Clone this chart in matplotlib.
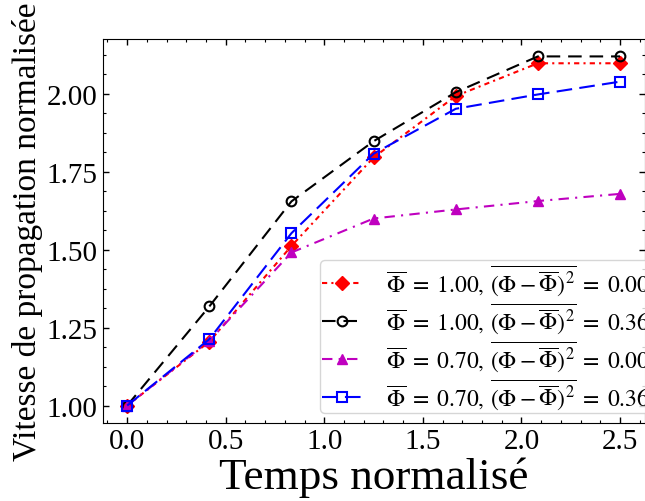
import matplotlib
matplotlib.use("Agg")
import matplotlib.pyplot as plt
from matplotlib.ticker import MultipleLocator

plt.rcParams['font.family'] = ['Liberation Serif', 'DejaVu Serif']
plt.rcParams['mathtext.fontset'] = 'stix'

t = [0.0, 0.4167, 0.8333, 1.25, 1.6667, 2.0833, 2.5]
v_red = [1.00, 1.205, 1.512, 1.796, 1.993, 2.098, 2.098]
v_black = [1.00, 1.318, 1.655, 1.848, 2.005, 2.120, 2.120]
v_mag = [1.00, 1.208, 1.491, 1.600, 1.629, 1.656, 1.679]
v_blue = [1.00, 1.213, 1.553, 1.808, 1.952, 1.998, 2.039]

labels = [
    r'$\overline{\Phi}\;=\;1.00,\,\overline{(\Phi - \overline{\Phi})^2}\;=\;0.00$',
    r'$\overline{\Phi}\;=\;1.00,\,\overline{(\Phi - \overline{\Phi})^2}\;=\;0.36$',
    r'$\overline{\Phi}\;=\;0.70,\,\overline{(\Phi - \overline{\Phi})^2}\;=\;0.00$',
    r'$\overline{\Phi}\;=\;0.70,\,\overline{(\Phi - \overline{\Phi})^2}\;=\;0.36$',
]

fig = plt.figure(figsize=(6.45, 5.02), dpi=100)
ax = fig.add_axes([0.159, 0.1554, 0.8405, 0.765])

lw = 1.5
ax.plot(t, v_red, color='red', lw=lw, ls=(0, (2.5, 2, 1, 2)), marker='D', ms=7,
        label=labels[0])
ax.plot(t, v_black, color='black', lw=lw, ls=(0, (6.5, 3.8)), marker='o', ms=7,
        mfc='none', mew=1.5, label=labels[1])
ax.plot(t, v_mag, color='m', lw=lw, ls=(0, (5, 3, 1, 3)), marker='^', ms=7,
        label=labels[2])
ax.plot(t, v_blue, color='blue', lw=lw, ls=(0, (7.5, 3.5)), marker='s', ms=7,
        mfc='none', mew=1.5, label=labels[3])

ax.xaxis.set_major_locator(MultipleLocator(0.5))
ax.xaxis.set_minor_locator(MultipleLocator(0.1))
ax.yaxis.set_major_locator(MultipleLocator(0.25))
ax.yaxis.set_minor_locator(MultipleLocator(0.0625))
ax.tick_params(which='both', direction='in', top=True, right=True)
ax.tick_params(which='major', length=4.5, width=1, labelsize=21)
ax.tick_params(which='minor', length=2.5, width=0.8)
ax.set_xticks([0.0, 0.5, 1.0, 1.5, 2.0, 2.5])
ax.set_xticklabels(['0.0', '0.5', '1.0', '1.5', '2.0', '2.5'])
ax.set_yticks([1.00, 1.25, 1.50, 1.75, 2.00])
ax.set_yticklabels(['1.00', '1.25', '1.50', '1.75', '2.00'])

ax.set_xlabel('Temps normalisé', fontsize=32.5, labelpad=2)
ax.set_ylabel('Vitesse de propagation normalisée', fontsize=24, labelpad=3)

leg = ax.legend(loc='upper left', bbox_to_anchor=(0.401, 0.4245), borderaxespad=0,
                fontsize=17, handlelength=1.7, handletextpad=1.0,
                frameon=True, labelspacing=0.15, borderpad=0.1)

fig.savefig('out.png', dpi=100)
